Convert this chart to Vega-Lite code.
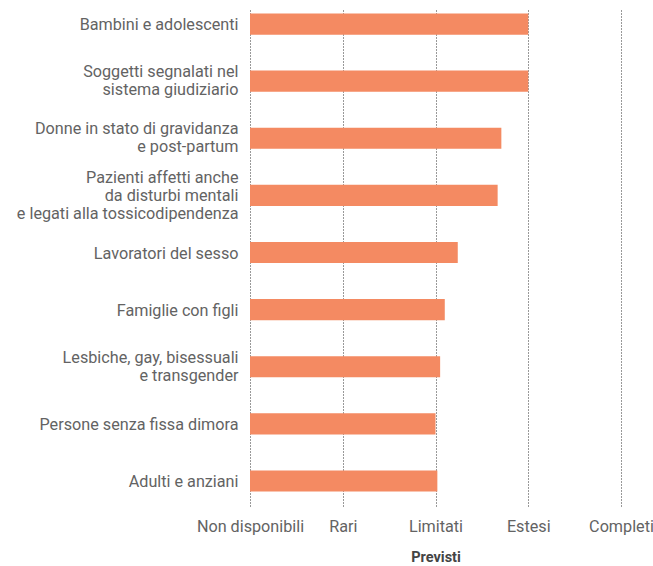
{
  "$schema": "https://vega.github.io/schema/vega-lite/v6.json",
  "autosize": {"type": "none"},
  "padding": {"left": 250, "top": 8, "right": 32, "bottom": 60},
  "width": 371,
  "height": 498,
  "background": "white",
  "config": {
    "view": {"stroke": null},
    "font": "Roboto",
    "axis": {"labelFont": "Roboto", "titleFont": "Roboto"}
  },
  "data": {
    "values": [
      {"gruppo": "Bambini e adolescenti", "valore": 3.0},
      {"gruppo": "Soggetti segnalati nel|sistema giudiziario", "valore": 3.0},
      {"gruppo": "Donne in stato di gravidanza|e post-partum", "valore": 2.71},
      {"gruppo": "Pazienti affetti anche|da disturbi mentali|e legati alla tossicodipendenza", "valore": 2.67},
      {"gruppo": "Lavoratori del sesso", "valore": 2.24},
      {"gruppo": "Famiglie con figli", "valore": 2.1},
      {"gruppo": "Lesbiche, gay, bisessuali|e transgender", "valore": 2.05},
      {"gruppo": "Persone senza fissa dimora", "valore": 2.0},
      {"gruppo": "Adulti e anziani", "valore": 2.02}
    ]
  },
  "mark": {"type": "bar", "color": "#F48A62"},
  "encoding": {
    "y": {
      "field": "gruppo",
      "type": "nominal",
      "sort": null,
      "scale": {"paddingInner": 0.63, "paddingOuter": 0.175, "align": 0.275},
      "axis": {
        "title": null,
        "domain": false,
        "ticks": false,
        "grid": false,
        "labelPadding": 12,
        "labelFontSize": 16.2,
        "labelColor": "#636363",
        "labelLineHeight": 18,
        "labelLimit": 260,
        "labelOffset": {
          "condition": [
            {"test": "length(split(datum.label, '|')) == 3", "value": -17},
            {"test": "length(split(datum.label, '|')) == 2", "value": -9}
          ],
          "value": 1
        },
        "labelExpr": "split(datum.label, '|')"
      }
    },
    "x": {
      "field": "valore",
      "type": "quantitative",
      "scale": {"domain": [0, 4], "nice": false, "zero": true},
      "axis": {
        "title": "Previsti",
        "titleFontSize": 14.5,
        "titleFontWeight": "bold",
        "titleColor": "#444444",
        "titlePadding": 16,
        "values": [0, 1, 2, 3, 4],
        "domain": false,
        "ticks": false,
        "grid": true,
        "gridColor": "#333333",
        "gridDash": [1, 2],
        "gridWidth": 1,
        "gridOpacity": 1,
        "labelPadding": 12,
        "labelFontSize": 16.2,
        "labelColor": "#636363",
        "labelFlush": false,
        "labelOverlap": false,
        "labelExpr": "['Non disponibili','Rari','Limitati','Estesi','Completi'][datum.value]"
      }
    }
  }
}
